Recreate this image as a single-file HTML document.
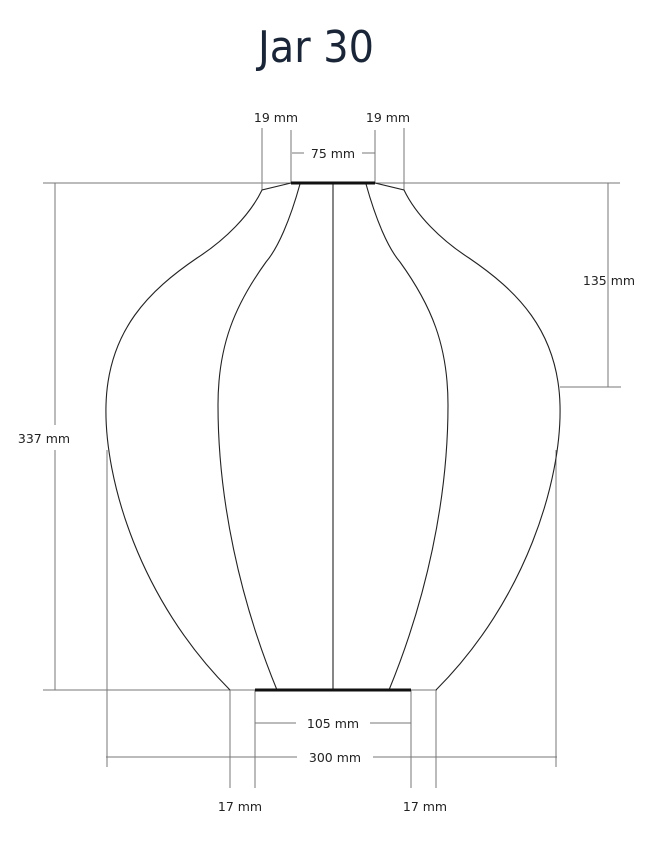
<!DOCTYPE html>
<html><head><meta charset="utf-8"><style>
html,body{margin:0;padding:0;background:#fff;}
svg{display:block;}
text{font-family:"DejaVu Sans","Liberation Sans",sans-serif;font-size:12.5px;fill:#222;}
</style></head><body>
<svg width="660" height="854" viewBox="0 0 660 854" xmlns="http://www.w3.org/2000/svg">
<text x="316" y="62" text-anchor="middle" style="font-size:44px;fill:#1a2638;font-family:'DejaVu Sans Condensed','Liberation Sans',sans-serif" textLength="116" lengthAdjust="spacingAndGlyphs">Jar 30</text>
<g stroke="#777" stroke-width="1" fill="none">
<line x1="43" y1="183" x2="620" y2="183"/>
<line x1="43" y1="690" x2="255" y2="690"/>
<line x1="411" y1="690" x2="437" y2="690"/>
<line x1="55" y1="183" x2="55" y2="425"/>
<line x1="55" y1="450" x2="55" y2="690"/>
<line x1="608" y1="183" x2="608" y2="387"/>
<line x1="560" y1="387" x2="621" y2="387"/>
<line x1="262" y1="128" x2="262" y2="190"/>
<line x1="404" y1="128" x2="404" y2="190"/>
<line x1="291" y1="130" x2="291" y2="183"/>
<line x1="375" y1="130" x2="375" y2="183"/>
<line x1="292" y1="153" x2="304" y2="153"/>
<line x1="362" y1="153" x2="375" y2="153"/>
<line x1="230" y1="690" x2="230" y2="788"/>
<line x1="436" y1="690" x2="436" y2="788"/>
<line x1="255" y1="690" x2="255" y2="788"/>
<line x1="411" y1="690" x2="411" y2="788"/>
<line x1="255" y1="723" x2="296" y2="723"/>
<line x1="370" y1="723" x2="411" y2="723"/>
<line x1="106" y1="757" x2="297" y2="757"/>
<line x1="373" y1="757" x2="557" y2="757"/>
<line x1="107" y1="450" x2="107" y2="767"/>
<line x1="556" y1="450" x2="556" y2="767"/>
</g>
<g stroke="#222" stroke-width="1.1" fill="none">
<g id="half">
<path d="M291,183 L262,190 C250,215 225,240 197,258 C150,290 108,330 106,405 C104,480 140,600 230,690"/>
<path d="M300,184 C290,220 278,248 266,262 C235,305 218,345 218,405 C218,500 240,600 277,690"/>
</g>
<use href="#half" transform="translate(666,0) scale(-1,1)"/>
<line x1="333" y1="183" x2="333" y2="690"/>
</g>
<line x1="291" y1="183" x2="375" y2="183" stroke="#111" stroke-width="3"/>
<line x1="255" y1="690" x2="411" y2="690" stroke="#111" stroke-width="3"/>
<text x="276" y="122" text-anchor="middle">19 mm</text>
<text x="388" y="122" text-anchor="middle">19 mm</text>
<text x="333" y="158" text-anchor="middle">75 mm</text>
<text x="44" y="443" text-anchor="middle">337 mm</text>
<text x="609" y="285" text-anchor="middle">135 mm</text>
<text x="333" y="728" text-anchor="middle">105 mm</text>
<text x="335" y="762" text-anchor="middle">300 mm</text>
<text x="240" y="811" text-anchor="middle">17 mm</text>
<text x="425" y="811" text-anchor="middle">17 mm</text>
</svg>
</body></html>
